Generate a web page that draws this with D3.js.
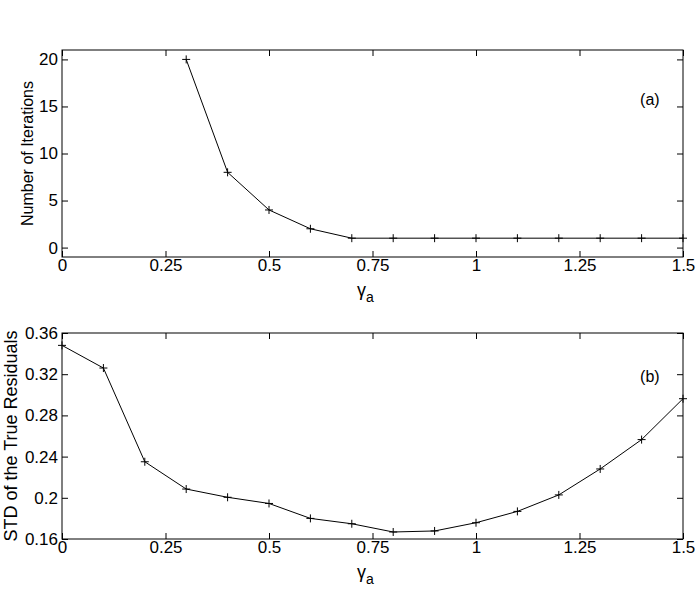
<!DOCTYPE html>
<html>
<head>
<meta charset="utf-8">
<script src="https://cdn.jsdelivr.net/npm/d3@7"></script>
<style>
  body { margin: 0; background: #fff; }
  svg { font-family: "Liberation Sans", Arial, sans-serif; }
  .tick text { font-size: 17px; fill: #000; }
  .tick line { stroke: #000; }
</style>
</head>
<body>
<svg id="chart" width="700" height="592"></svg>
<script>
// data
var gammaA = [0, 0.1, 0.2, 0.3, 0.4, 0.5, 0.6, 0.7, 0.8, 0.9, 1.0, 1.1, 1.2, 1.3, 1.4, 1.5];
var iterGamma = [0.3, 0.4, 0.5, 0.6, 0.7, 0.8, 0.9, 1.0, 1.1, 1.2, 1.3, 1.4, 1.5];
var iterations = [20, 8, 4, 2, 1, 1, 1, 1, 1, 1, 1, 1, 1];
var stdResid = [0.348, 0.326, 0.235, 0.2085, 0.2005, 0.1945, 0.180, 0.1748, 0.1668, 0.1678,
                0.1758, 0.1868, 0.2028, 0.228, 0.2565, 0.2962];
var xTicks = [0, 0.25, 0.5, 0.75, 1, 1.25, 1.5];
var yTicksA = [0, 5, 10, 15, 20];
var yTicksB = [0.16, 0.2, 0.24, 0.28, 0.32, 0.36];

var svg = d3.select('#chart');

function panel(opt)
{
  var left = 62, width = 621,
	top = opt.top, height = opt.height;

  var x = d3.scaleLinear().domain([0, 1.5]).range([0, width]);
  var y = d3.scaleLinear().domain(opt.ydomain).range([height, 0]);

  var g = svg.append('g').attr('transform', 'translate(' + left + ',' + top + ')');

  //axes, ticks pointing inward
  g.append('g').attr('transform', 'translate(0,' + height + ')')
    .call(d3.axisBottom(x).tickValues(xTicks).tickSize(-6).tickSizeOuter(0).tickPadding(2).tickFormat(function(d) { return String(d); }));
  g.append('g')
    .call(d3.axisTop(x).tickValues(xTicks).tickSize(-6).tickSizeOuter(0).tickFormat(''));
  g.append('g')
    .call(d3.axisLeft(y).tickValues(opt.yticks).tickSize(-6).tickSizeOuter(0).tickPadding(4).tickFormat(function(d) { return String(d); }));
  g.append('g').attr('transform', 'translate(' + width + ',0)')
    .call(d3.axisRight(y).tickValues(opt.yticks).tickSize(-6).tickSizeOuter(0).tickFormat(''));
  g.selectAll('.domain').remove();

  g.append('rect').attr('width', width).attr('height', height)
    .attr('fill', 'none').attr('stroke', '#000').attr('stroke-width', 1);

  //series line and plus markers
  var pts = opt.xs.map(function(d, i) { return [x(d), y(opt.ys[i])]; });
  g.append('path').attr('d', d3.line()(pts))
    .attr('fill', 'none').attr('stroke', '#000').attr('stroke-width', 1);
  g.selectAll('.mark').data(pts).enter().append('path')
    .attr('class', 'mark')
    .attr('d', function(p) { return 'M' + (p[0] - 4) + ' ' + p[1] + 'h8M' + p[0] + ' ' + (p[1] - 4) + 'v8'; })
    .attr('stroke', '#000').attr('stroke-width', 1);

  //panel letter
  g.append('text').attr('x', x(opt.tagAt[0])).attr('y', y(opt.tagAt[1]))
    .attr('text-anchor', 'middle').attr('dy', '0.35em')
    .style('font-size', '16px').text(opt.tag);

  //x label gamma_a
  var xl = g.append('text').attr('x', width / 2 - 7).attr('y', height + 39)
    .attr('text-anchor', 'middle').style('font-size', '18px');
  xl.append('tspan').text('γ');
  xl.append('tspan').attr('dy', 6).style('font-size', '14px').text('a');

  //y label
  g.append('text')
    .attr('transform', 'translate(' + opt.ylabelX + ',' + height / 2 + ') rotate(-90)')
    .attr('text-anchor', 'middle').style('font-size', opt.ylabelSize)
    .text(opt.ylabel);
}

panel({ top: 50, height: 207, ydomain: [-1, 21], yticks: yTicksA,
  xs: iterGamma, ys: iterations, tag: '(a)', tagAt: [1.42, 15.75],
  ylabel: 'Number of Iterations', ylabelX: -29, ylabelSize: '16px' });

panel({ top: 333, height: 206, ydomain: [0.16, 0.36], yticks: yTicksB,
  xs: gammaA, ys: stdResid, tag: '(b)', tagAt: [1.42, 0.318],
  ylabel: 'STD of the True Residuals', ylabelX: -45, ylabelSize: '18px' });
</script>
</body>
</html>
